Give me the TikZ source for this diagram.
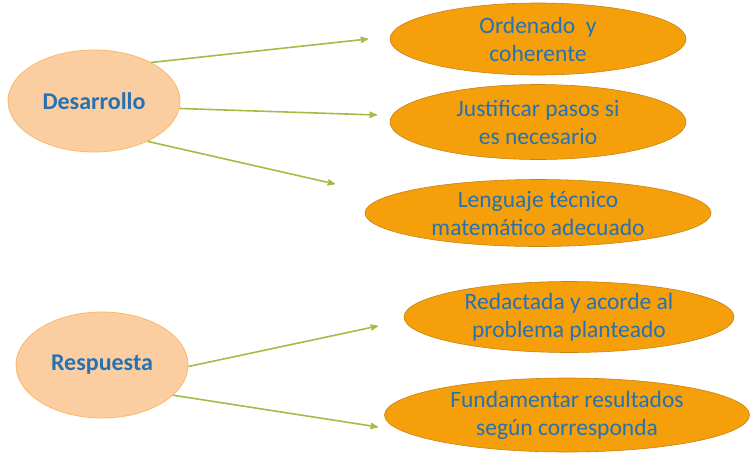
\documentclass[tikz,border=0pt]{standalone}
\usepackage{fontspec}
\setmainfont{Carlito}
\usetikzlibrary{arrows,shapes}

\definecolor{textblue}{RGB}{38,113,178}
\definecolor{peach}{RGB}{251,206,162}
\definecolor{peachline}{RGB}{250,186,100}
\definecolor{orangefill}{RGB}{245,160,10}
\definecolor{orangeline}{RGB}{200,130,20}
\definecolor{arrowgreen}{RGB}{160,190,70}

\begin{document}
\begin{tikzpicture}[x=1pt,y=-1pt,>=stealth']
  \tikzstyle{topic}=[ellipse,draw=peachline,fill=peach,thick,
                     text=textblue,font=\fontsize{24}{28}\selectfont\bfseries,
                     inner sep=0pt]
  \tikzstyle{item}=[ellipse,draw=orangeline,fill=orangefill,semithick,
                    text=textblue,font=\fontsize{23.5}{28}\selectfont,
                    align=center,inner sep=0pt]
  \tikzstyle{link}=[->,draw=arrowgreen,line width=1.6pt]

  \useasboundingbox (0,0) rectangle (752,456);

  % temas
  \node [topic,minimum width=172pt,minimum height=102pt] (desarrollo) at (94,101) {Desarrollo};
  \node [topic,minimum width=172pt,minimum height=106pt] (respuesta) at (102,365) {Respuesta};

  % criterios
  \node [item,minimum width=296pt,minimum height=72pt] (orden) at (538,39) {Ordenado~ y\\coherente};
  \node [item,minimum width=296pt,minimum height=75pt] (pasos) at (538,122) {Justificar pasos si\\es necesario};
  \node [item,minimum width=346pt,minimum height=67pt] (lenguaje) at (538,213) {Lenguaje técnico\\matemático adecuado};
  \node [item,minimum width=330pt,minimum height=71pt] (redactada) at (569,317) {Redactada y acorde al\\problema planteado};
  \node [item,minimum width=365pt,minimum height=74pt] (fundamentar) at (567,415) {Fundamentar resultados\\según corresponda};

  % puntas de flecha
  \coordinate (t1) at (368,39);
  \coordinate (t2) at (377,115);
  \coordinate (t3) at (335,184);
  \coordinate (t4) at (378,326);
  \coordinate (t5) at (378,427);

  \draw [link] (desarrollo.34) -- (t1);
  \draw [link] (desarrollo.-5) -- (t2);
  \draw [link] (desarrollo.-37) -- (t3);
  \draw [link] (respuesta.-1) -- (t4);
  \draw [link] (respuesta.-23) -- (t5);
\end{tikzpicture}
\end{document}
